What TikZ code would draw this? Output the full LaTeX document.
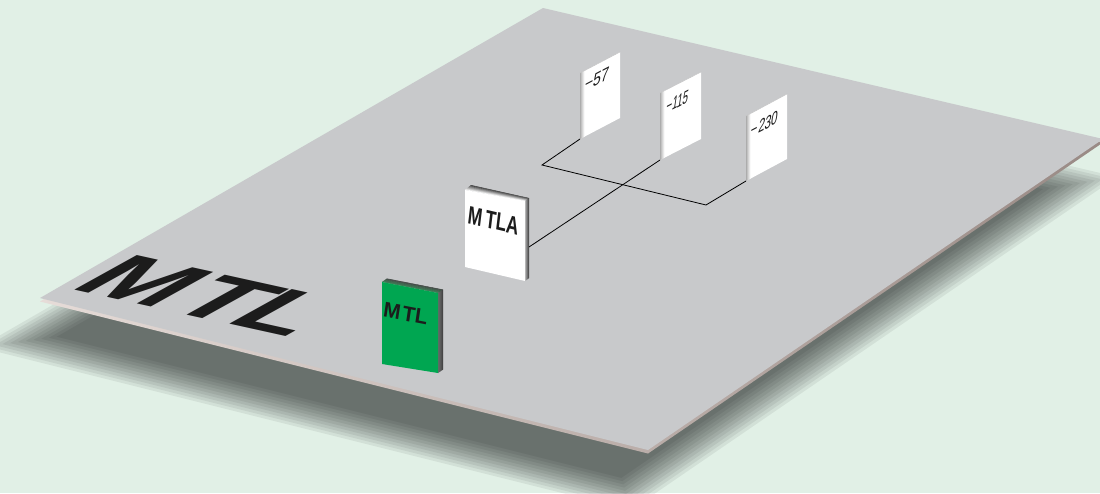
\documentclass[tikz,border=0pt]{standalone}
\usepackage{fontspec}
\setmainfont{Liberation Sans}
\usetikzlibrary{calc}
\definecolor{bgc}{HTML}{E1F0E6}
\definecolor{platec}{HTML}{C8C9CB}
\definecolor{edgeL}{HTML}{E6DCD8}
\definecolor{edgeR}{HTML}{998A85}
\definecolor{mtlgreen}{HTML}{00A651}
\definecolor{inkc}{HTML}{1C1C1C}
\definecolor{topdark}{HTML}{3E3E3E}
\definecolor{sidelight}{HTML}{B8B8B8}
\definecolor{sidedark}{HTML}{3C3C3C}
\definecolor{gtopf}{HTML}{2F7A4C}
\definecolor{gtopb}{HTML}{3A3F3C}
\definecolor{gsidef}{HTML}{606060}
\definecolor{gsideb}{HTML}{2E2E2E}
\definecolor{stripc}{HTML}{9A9A9A}
\newcommand\gradquad[6]{%
  \foreach \i in {0,...,11}{%
    \pgfmathsetmacro\ta{\i/12}%
    \pgfmathsetmacro\tb{min((\i+1.3)/12,1)}%
    \pgfmathtruncatemacro\pc{100-\i*100/11}%
    \fill[#5!\pc!#6] ($(#1)!\ta!(#4)$) -- ($(#2)!\ta!(#3)$) -- ($(#2)!\tb!(#3)$) -- ($(#1)!\tb!(#4)$) -- cycle;
  }}
\begin{document}
\begin{tikzpicture}[x=1pt,y=-1pt,
  wire/.style={draw=black, line width=0.8pt},
  numlab/.style={anchor=base west, inner sep=0pt, transform shape, text=inkc, font=\fontsize{19}{19}\selectfont},
  blocklab/.style={anchor=base west, inner sep=0pt, transform shape, text=inkc}]
\useasboundingbox (0,0) rectangle (1100,493);
\fill[bgc] (0,0) rectangle (1100,493);
% shadow (soft)
\foreach \k in {0,...,10}{
  \pgfmathsetmacro\s{1-(3*\k-15)/210}
  \fill[black,opacity=0.062,scale around={\s:(561,268)}] (18,342) -- (521,52) -- (1080,183) -- (626,494) -- cycle;
}
% plate
\coordinate (pL) at (40,298);
\coordinate (pT) at (543,8);
\coordinate (pR) at (1103,139);
\coordinate (pB) at (648,450);
\shade[left color=edgeL,right color=edgeR] ($(pL)+(0,3.5)$) -- ($(pT)+(0,3.5)$) -- ($(pR)+(0,3.5)$) -- ($(pB)+(0,3.5)$) -- cycle;
\fill[platec] (pL) -- (pT) -- (pR) -- (pB) -- cycle;
% big lettering on plate
\begin{scope}[cm={1.093,-0.241,0.908,0.503,(67,288.2)}]
\node[blocklab, font=\bfseries\fontsize{100}{100}\selectfont] (bigmtl) at (0,0) {\spaceskip=3.3pt M T\kern-5.7pt L};
\end{scope}
% number blocks coordinates
\coordinate (n57tl) at (580,73);  \coordinate (n57tr) at (620,52);
\coordinate (n57br) at (620,118); \coordinate (n57bl) at (580,139);
\coordinate (n115tl) at (660,93);  \coordinate (n115tr) at (701,72);
\coordinate (n115br) at (701,139); \coordinate (n115bl) at (660,160);
\coordinate (n230tl) at (746,116); \coordinate (n230tr) at (787,94);
\coordinate (n230br) at (787,159); \coordinate (n230bl) at (746,181);
% MTLA block coordinates
\coordinate (a1) at (465,190); \coordinate (a2) at (525,201);
\coordinate (a3) at (525,281); \coordinate (a4) at (465,267);
\coordinate (b1) at (471,185); \coordinate (b2) at (529,198);
\coordinate (b3) at (529,278);
\coordinate (mtlaR) at (529,247);
% green block coordinates
\coordinate (g1) at (382,282); \coordinate (g2) at (438,293);
\coordinate (g3) at (438,373); \coordinate (g4) at (382,364);
\coordinate (h1) at (387,278.5); \coordinate (h2) at (443,289.5);
\coordinate (h3) at (443,369.5);
% connectors
\coordinate (j1) at (542,165);
\coordinate (j2) at (706,205);
\draw[wire] (n57bl) -- (j1) -- (j2) -- (n230bl);
\draw[wire] (n115bl) -- (mtlaR);
% green block
\gradquad{g1}{g2}{h2}{h1}{gtopf}{gtopb}
\gradquad{g2}{g3}{h3}{h2}{gsidef}{gsideb}
\fill[mtlgreen] (g1) -- (g2) -- (g3) -- (g4) -- cycle;
\begin{scope}[cm={0.97,-0.19,0.15,1,(382.5,316.7)}]
\node[blocklab, font=\bfseries\fontsize{21}{21}\selectfont] (mtl) at (0,0) {\spaceskip=2pt M TL};
\end{scope}
% MTLA block
\gradquad{a1}{a2}{b2}{b1}{white}{topdark}
\gradquad{a2}{a3}{b3}{b2}{sidelight}{sidedark}
\fill[white] (a1) -- (a2) -- (a3) -- (a4) -- cycle;
\begin{scope}[cm={0.68,-0.16,0.12,1,(467,223.3)}]
\node[blocklab, font=\bfseries\fontsize{25}{25}\selectfont] (mtla) at (0,0) {\spaceskip=5pt M TLA};
\end{scope}
% number blocks
\foreach \n in {57,115,230}{
  \fill[white] (n\n tl) -- (n\n tr) -- (n\n br) -- (n\n bl) -- cycle;
  \coordinate (n\n ti) at ($(n\n tl)+(5,-2.6)$);
  \coordinate (n\n bi) at ($(n\n bl)+(5,-2.6)$);
  \gradquad{n\n tl}{n\n bl}{n\n bi}{n\n ti}{stripc}{white}
  \draw[gray!45, line width=0.5pt] (n\n tl) -- (n\n tr);
}
\begin{scope}[cm={0.745,0.391,0.15,1,(583.9,91.7)}]
\node[numlab] (l57) at (0,0) {−57};
\end{scope}
\begin{scope}[cm={0.522,0.274,0.15,1,(665.6,113.7)}]
\node[numlab] (l115) at (0,0) {−115};
\end{scope}
\begin{scope}[cm={0.6,0.315,0.15,1,(749.8,137.8)}]
\node[numlab] (l230) at (0,0) {\spaceskip=2pt − 230};
\end{scope}
\end{tikzpicture}
\end{document}
